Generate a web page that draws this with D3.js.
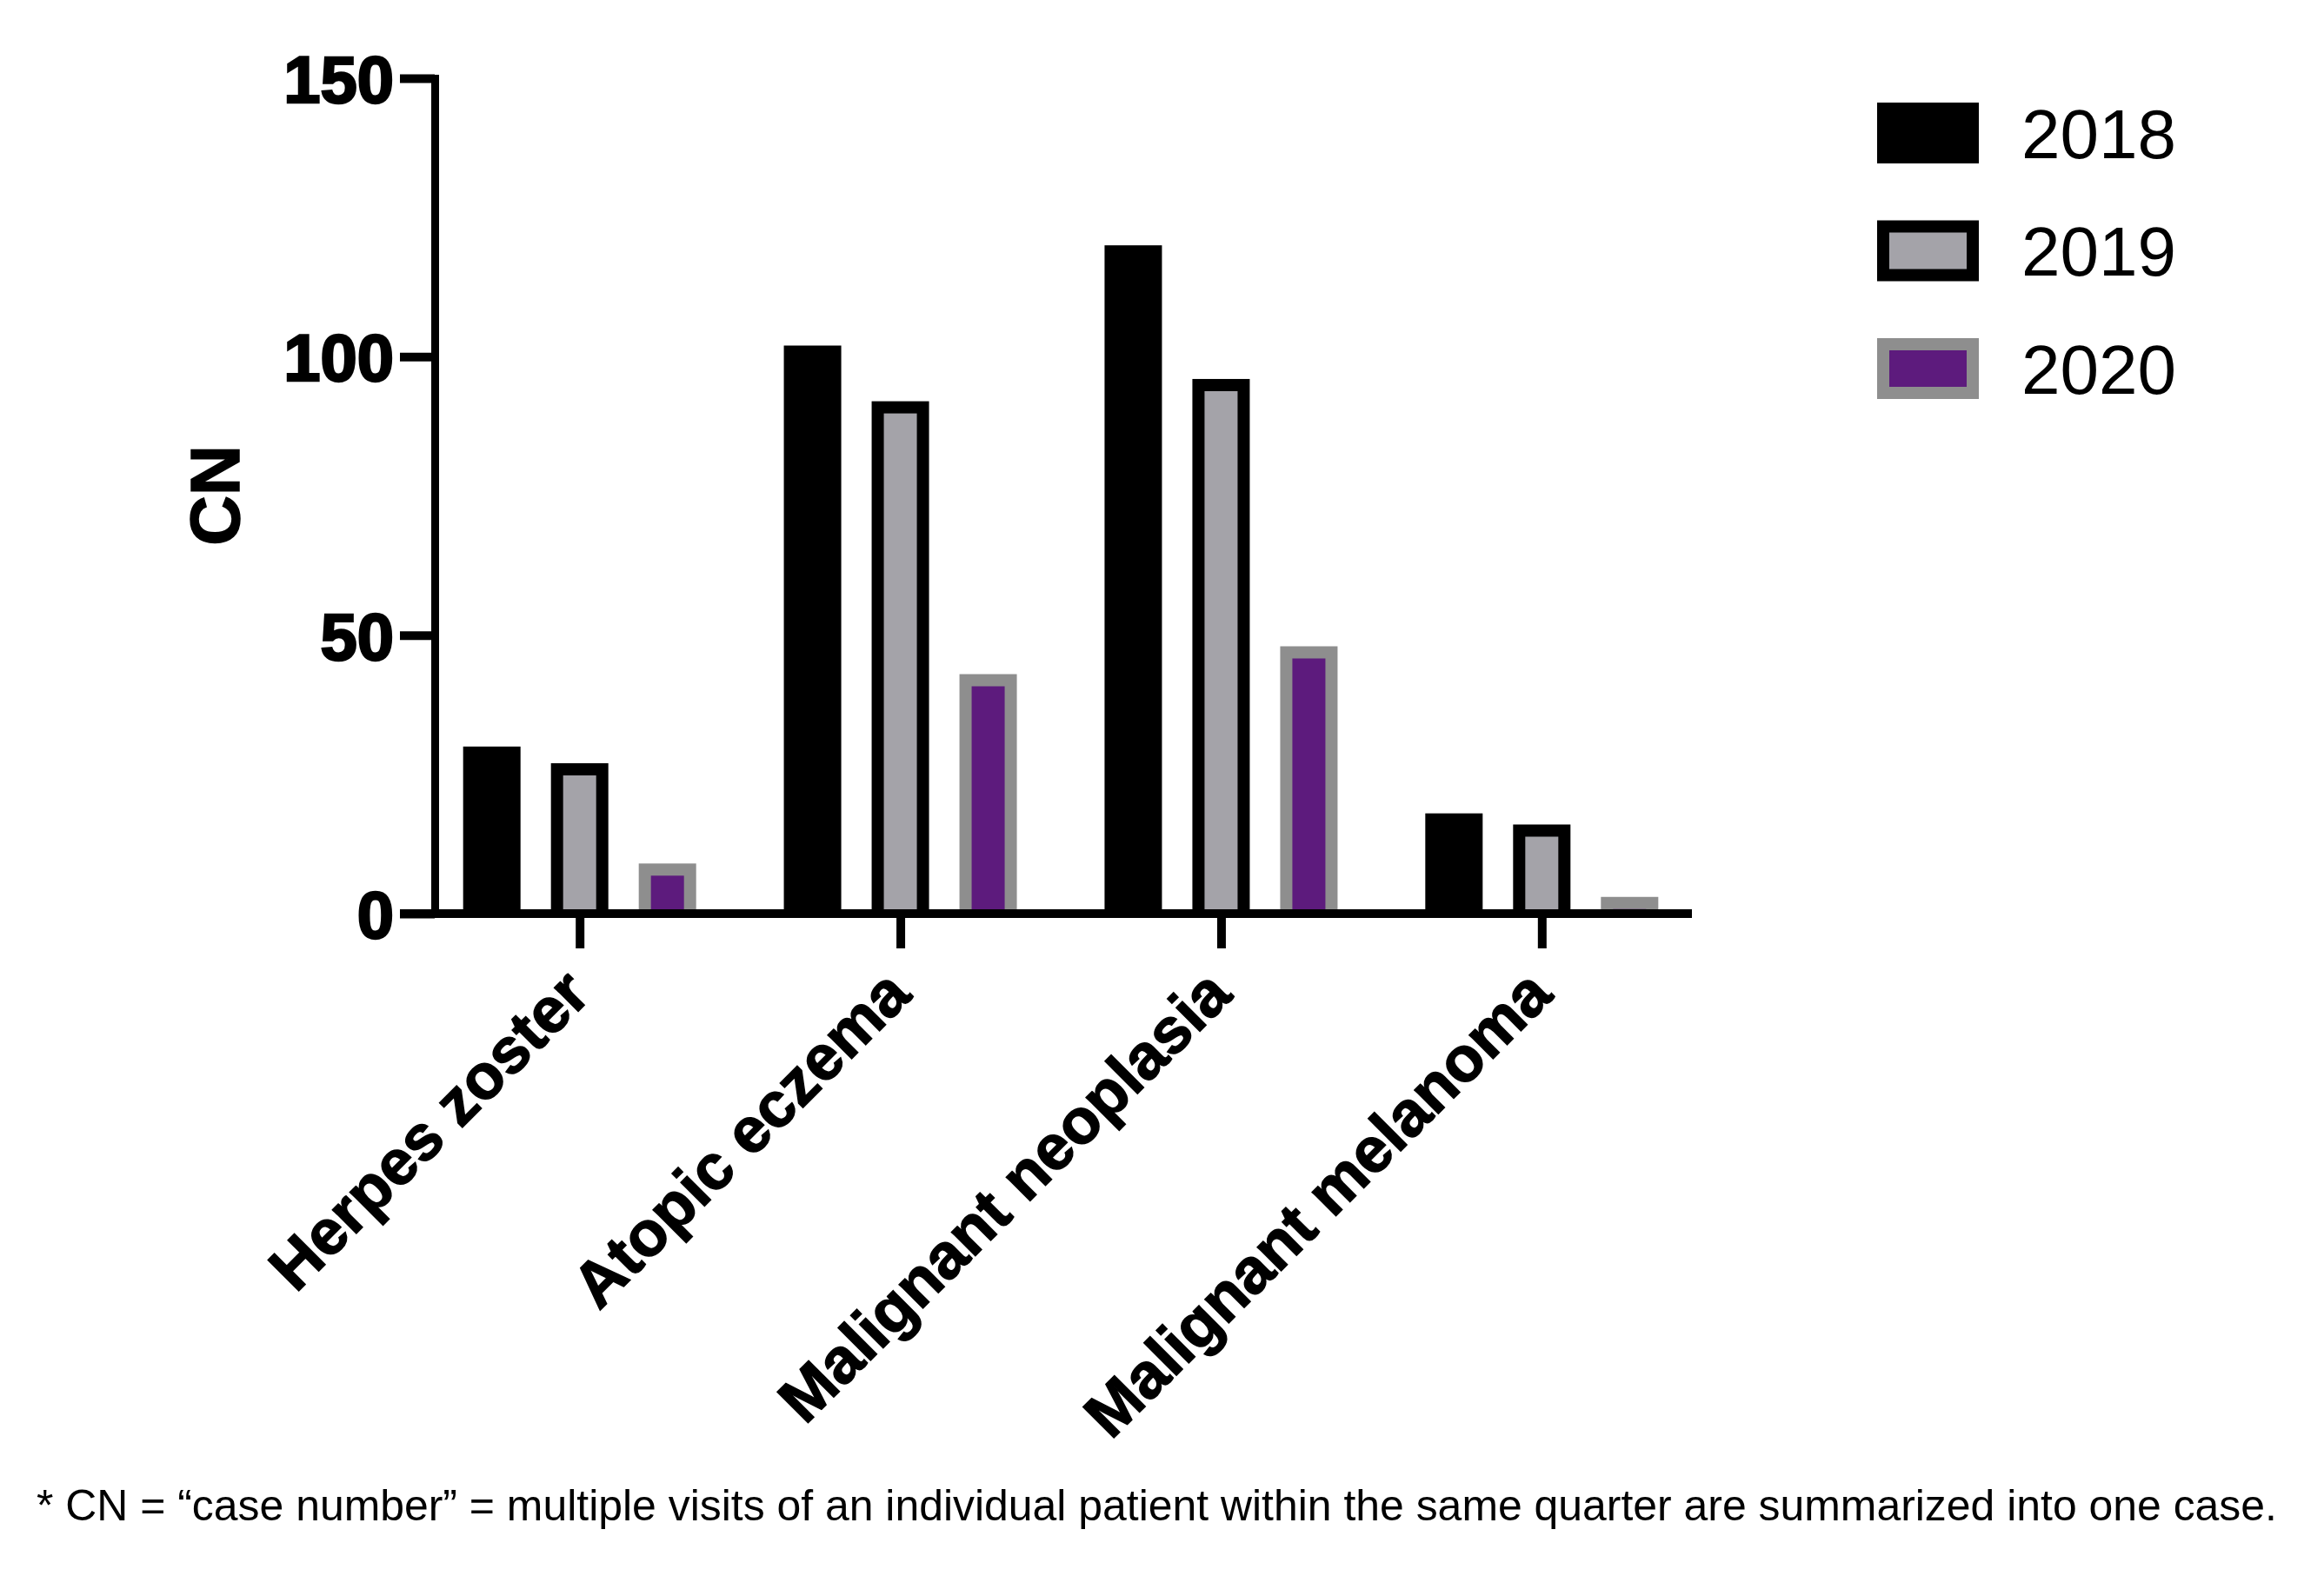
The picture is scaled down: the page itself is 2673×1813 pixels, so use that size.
<!DOCTYPE html>
<html>
<head>
<meta charset="utf-8">
<script src="https://cdn.jsdelivr.net/npm/d3@7"></script>
<style>
  html, body { margin: 0; padding: 0; background: #fff; }
  svg { display: block; }
</style>
</head>
<body>
<svg id="chart" width="2673" height="1813"></svg>
<script>
// ---- data ----
const categories = ["Herpes zoster", "Atopic eczema", "Malignant neoplasia", "Malignant melanoma"];
const seriesNames = ["2018", "2019", "2020"];
const values2018 = [30, 102, 120, 18];
const values2019 = [27, 92, 96, 16];
const values2020 = [9, 43, 48, 3];
const yTicks = [0, 50, 100, 150];
const yTitle = "CN";
const footnote = "* CN = \u201Ccase number\u201D = multiple visits of an individual patient within the same quarter are summarized into one case.";

const seriesValues = { "2018": values2018, "2019": values2019, "2020": values2020 };
const fillColor = { "2018": "#000000", "2019": "#a4a3a9", "2020": "#5d1b7d" };
const borderColor = { "2018": "#000000", "2019": "#000000", "2020": "#8e8e8e" };
const border = 14;

const svg = d3.select("#chart");
const font = "'Liberation Sans', Arial, Helvetica, sans-serif";

const y = d3.scaleLinear().domain([0, 150]).range([1051, 90]);
const x0 = d3.scalePoint().domain(categories).range([497, 1943]).padding(0.46);
const x1 = d3.scaleBand().domain(seriesNames).range([-151.5, 151.5]).paddingInner(0.3465).paddingOuter(0.17325);

const axisLeftX = 500, tickLen = 40;

// ---- bars ----
const data = [];
categories.forEach((c, i) => seriesNames.forEach(s => data.push({ c, s, v: seriesValues[s][i] })));

const g = svg.append("g");
data.forEach(d => {
  const bx = x0(d.c) + x1(d.s);
  const bw = x1.bandwidth();
  const top = y(d.v), base = y(0);
  g.append("rect").attr("x", bx).attr("y", top).attr("width", bw).attr("height", base - top)
    .attr("fill", borderColor[d.s]);
  const ih = base - (top + border);
  if (ih > 0) {
    g.append("rect").attr("x", bx + border).attr("y", top + border)
      .attr("width", bw - 2 * border).attr("height", ih)
      .attr("fill", fillColor[d.s]);
  }
});

// ---- axes ----
const yAxis = d3.axisLeft(y).tickValues(yTicks).tickSize(tickLen).tickSizeOuter(0).tickPadding(7);
const ya = svg.append("g").attr("transform", `translate(${axisLeftX},0)`).call(yAxis);
ya.select(".domain").attr("stroke", "#000").attr("stroke-width", 9).attr("stroke-linecap", "square");
ya.selectAll(".tick line").attr("stroke", "#000").attr("stroke-width", 10);
ya.selectAll(".tick text")
  .attr("font-family", font).attr("font-weight", "bold").attr("font-size", 76)
  .attr("fill", "#000").attr("stroke", "#000").attr("stroke-width", 2.5)
  .attr("dy", "0.36em");

const xAxis = d3.axisBottom(x0).tickSize(tickLen).tickSizeOuter(0).tickFormat(() => "");
const xa = svg.append("g").attr("transform", `translate(0,${y(0)})`).call(xAxis);
xa.select(".domain").remove();
xa.selectAll(".tick line").attr("stroke", "#000").attr("stroke-width", 10);
xa.append("line").attr("x1", axisLeftX - tickLen).attr("x2", 1946).attr("y1", 0).attr("y2", 0)
  .attr("stroke", "#000").attr("stroke-width", 10);

// category labels
svg.append("g").selectAll("text").data(categories).join("text")
  .attr("transform", d => `translate(${x0(d) + 15},${y(0) + 96}) rotate(-45)`)
  .attr("text-anchor", "end")
  .attr("font-family", font).attr("font-weight", "bold").attr("font-size", 73)
  .attr("fill", "#000").attr("stroke", "#000").attr("stroke-width", 1.5)
  .text(d => d);

// y title
svg.append("text")
  .attr("transform", "translate(275,570) rotate(-90)")
  .attr("text-anchor", "middle")
  .attr("font-family", font).attr("font-weight", "bold").attr("font-size", 80)
  .attr("fill", "#000").attr("stroke", "#000").attr("stroke-width", 1.5)
  .text(yTitle);

// ---- legend ----
const legY = d3.scalePoint().domain(seriesNames).range([153, 424]);
const lg = svg.append("g");
seriesNames.forEach(s => {
  const cy = legY(s);
  lg.append("rect").attr("x", 2159).attr("y", cy - 35).attr("width", 117).attr("height", 70)
    .attr("fill", borderColor[s]);
  lg.append("rect").attr("x", 2159 + border).attr("y", cy - 35 + border)
    .attr("width", 117 - 2 * border).attr("height", 70 - 2 * border)
    .attr("fill", fillColor[s]);
  lg.append("text").attr("x", 2325).attr("y", cy).attr("dy", "0.36em")
    .attr("font-family", font).attr("font-size", 80).attr("fill", "#000")
    .text(s);
});

// ---- footnote ----
const fn = svg.append("text").attr("x", 42).attr("y", 1749)
  .attr("font-family", font).attr("font-size", 50).attr("fill", "#000")
  .text(footnote);
const len = fn.node().getComputedTextLength();
fn.attr("font-size", 50 * 2578 / len);
</script>
</body>
</html>
